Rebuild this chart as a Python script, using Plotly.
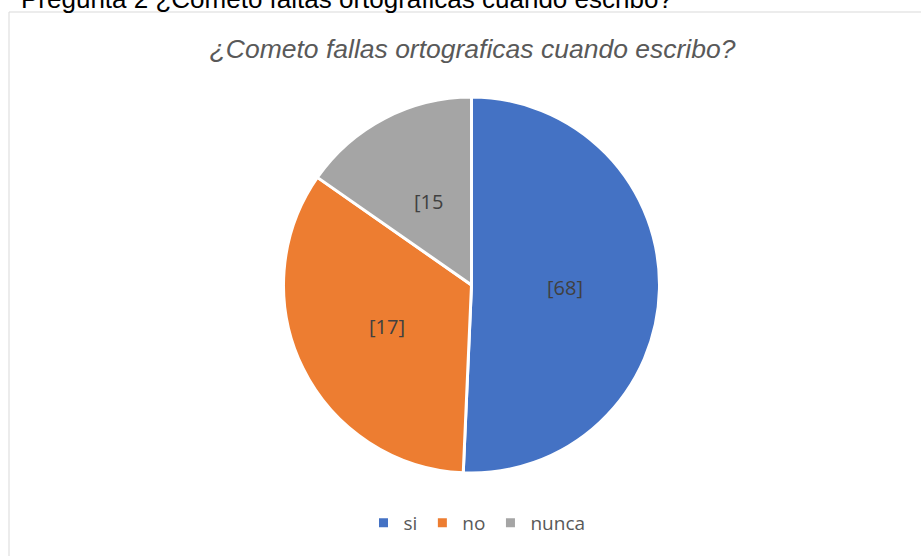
import math
import plotly.graph_objects as go

# Data
categories = ["si", "no", "nunca"]
shares = [50.7, 34.0, 15.3]          # slice sizes (%)
label_texts = ["[68]", "[17]", "[15"]  # data labels as shown
colors = ["#4472C4", "#ED7D31", "#A5A5A5"]

page_title = "Pregunta 2 ¿Cometo faltas ortograficas cuando escribo?"
chart_title = "¿Cometo fallas ortograficas cuando escribo?"

W, H = 921, 556
cx, cy, R = 471.5, 285.0, 188.0

fig = go.Figure(
    go.Pie(
        labels=categories,
        values=shares,
        textinfo="none",
        marker=dict(colors=colors, line=dict(color="white", width=3)),
        sort=False,
        direction="clockwise",
        rotation=0,
        hoverinfo="label+value",
        domain=dict(x=[(cx - R) / W, (cx + R) / W], y=[(H - cy - R) / H, (H - cy + R) / H]),
    )
)

# data labels placed at half radius on each slice's mid-angle (derived from the values)
total = sum(shares)
label_annots = []
cum = 0.0
for val, txt in zip(shares, label_texts):
    mid = (cum + val / 2) / total * 2 * math.pi
    cum += val
    px = cx + 0.5 * R * math.sin(mid)
    py = cy - 0.5 * R * math.cos(mid)
    label_annots.append(
        dict(
            text=txt,
            xref="paper",
            yref="paper",
            x=px / W,
            y=1 - py / H,
            xanchor="center",
            yanchor="middle",
            showarrow=False,
            font=dict(family="Open Sans", size=20, color="#404040"),
        )
    )

fig.update_layout(
    width=W,
    height=H,
    margin=dict(l=0, r=0, t=0, b=0),
    paper_bgcolor="white",
    plot_bgcolor="white",
    title=dict(
        text=chart_title,
        x=472.5 / W,
        xanchor="center",
        y=1 - 49 / H,
        yanchor="middle",
        yref="container",
        font=dict(family="Liberation Sans", size=26.5, color="#595959", style="italic"),
    ),
    legend=dict(
        orientation="h",
        x=477 / W,
        xanchor="center",
        y=1 - 523 / H,
        yanchor="middle",
        font=dict(family="Open Sans", size=19, color="#595959"),
        bgcolor="rgba(0,0,0,0)",
    ),
    shapes=[
        dict(
            type="rect",
            xref="paper",
            yref="paper",
            x0=9 / W,
            x1=1.02,
            y0=-0.02,
            y1=1 - 12 / H,
            line=dict(color="#D9D9D9", width=1),
            fillcolor="rgba(0,0,0,0)",
            layer="below",
        )
    ],
    annotations=[
        dict(
            text=page_title,
            xref="paper",
            yref="paper",
            x=19 / W,
            xanchor="left",
            y=1 + 1 / H,
            yanchor="middle",
            showarrow=False,
            font=dict(family="Liberation Sans", size=26, color="#000000"),
        )
    ]
    + label_annots,
)

fig.write_html(
    "out.html",
    config={"displayModeBar": False},
    post_script="document.body.style.margin='0';document.body.style.overflow='hidden';",
)
